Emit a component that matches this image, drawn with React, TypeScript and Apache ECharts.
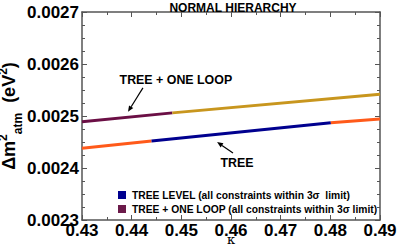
import React, { useEffect, useRef } from "react";
import * as echarts from "echarts";

const treeLoopLow = [[0.43, 0.002489], [0.4482, 0.002506]];
const treeLoopHigh = [[0.4482, 0.002506], [0.49, 0.002542]];
const treeLow = [[0.43, 0.002438], [0.444, 0.002452]];
const treeMid = [[0.444, 0.002452], [0.4801, 0.002487]];
const treeHigh = [[0.4801, 0.002487], [0.49, 0.002494]];
const legendNames = [
  "TREE LEVEL (all constraints within 3σ  limit)",
  "TREE + ONE LOOP (all constraints within 3σ limit)",
];
const annotations = [
  { text: "TREE + ONE LOOP", at: [0.4489, 0.002569], tail: [0.44227, 0.002554], head: [0.43926, 0.002508] },
  { text: "TREE", at: [0.4612, 0.00241], tail: [0.4604, 0.002429], head: [0.4572, 0.00245] },
];

const FONT = "Liberation Sans";

export default function App() {
  const ref = useRef<HTMLDivElement>(null);
  useEffect(() => {
    document.body.style.margin = "0";
    const chart = echarts.init(ref.current!, null, { renderer: "svg" });
    const axisLine = { show: true, lineStyle: { color: "#555", width: 1.5 } };
    const axisTick = { show: true, inside: true, length: 5, lineStyle: { color: "#555" } };
    const option: any = {
      animation: false,
      title: {
        text: "NORMAL HIERARCHY",
        left: 228,
        textAlign: "center",
        top: -3,
        textStyle: { fontFamily: FONT, fontWeight: "bold", fontSize: 12, color: "#000" },
      },
      legend: {
        data: legendNames.map((n) => ({ name: n })),
        orient: "vertical",
        left: 118,
        top: 189,
        padding: 0,
        itemWidth: 8,
        itemHeight: 8,
        itemGap: 2,
        icon: "rect",
        textStyle: { fontFamily: FONT, fontWeight: "bold", fontSize: 10.3, lineHeight: 12, color: "#000", padding: [0, 0, 0, 1] },
      },
      grid: { left: 82, right: 17, top: 12, bottom: 28, containLabel: false, outerBoundsMode: "none" },
      xAxis: [
        {
          type: "value",
          min: 0.43,
          max: 0.49,
          interval: 0.01,
          minorTick: { show: true, splitNumber: 2, length: 3, lineStyle: { color: "#555" } },
          axisLine,
          axisTick,
          splitLine: { show: false },
          axisLabel: {
            margin: 2,
            formatter: (v: number) => v.toFixed(2),
            fontFamily: FONT,
            fontWeight: "bold",
            fontSize: 17,
            color: "#000",
          },
          name: "κ",
          nameLocation: "middle",
          nameGap: 13,
          nameMoveOverlap: false,
          nameTextStyle: { fontFamily: "DejaVu Serif", fontSize: 13, color: "#000" },
        },
        {
          type: "value",
          position: "top",
          min: 0.43,
          max: 0.49,
          interval: 0.01,
          minorTick: { show: true, splitNumber: 2, length: 3, lineStyle: { color: "#555" } },
          axisLine,
          axisTick,
          splitLine: { show: false },
          axisLabel: { show: false },
        },
      ],
      yAxis: [
        {
          type: "value",
          min: 0.0023,
          max: 0.0027,
          interval: 0.0001,
          minorTick: { show: true, splitNumber: 4, length: 3, lineStyle: { color: "#555" } },
          axisLine,
          axisTick,
          splitLine: { show: false },
          axisLabel: {
            margin: 3,
            formatter: (v: number) => v.toFixed(4),
            fontFamily: FONT,
            fontWeight: "bold",
            fontSize: 17,
            color: "#000",
          },
          name: "{a|Δm}{sup|2}{sub|atm}{a|  (eV}{sup|2}{a|)}",
          nameLocation: "middle",
          nameGap: 58,
          nameRotate: 90,
          nameMoveOverlap: false,
          nameTextStyle: {
            fontFamily: FONT,
            fontWeight: "bold",
            color: "#000",
            rich: {
              a: { fontFamily: FONT, fontWeight: "bold", fontSize: 18, lineHeight: 30, verticalAlign: "middle" },
              sup: { fontFamily: FONT, fontWeight: "bold", fontSize: 12, lineHeight: 30, verticalAlign: "top", padding: [3, 0, 0, 0] },
              sub: { fontFamily: FONT, fontWeight: "bold", fontSize: 12, lineHeight: 30, verticalAlign: "bottom" },
            },
          },
        },
        {
          type: "value",
          position: "right",
          min: 0.0023,
          max: 0.0027,
          interval: 0.0001,
          minorTick: { show: true, splitNumber: 4, length: 3, lineStyle: { color: "#555" } },
          axisLine,
          axisTick,
          splitLine: { show: false },
          axisLabel: { show: false },
        },
      ],
      series: [
        { name: "tl1", data: treeLoopLow, color: "#6b0f45" },
        { name: "tl2", data: treeLoopHigh, color: "#c8961e" },
        { name: "t1", data: treeLow, color: "#ff5a1a" },
        { name: legendNames[0], data: treeMid, color: "#00008f" },
        { name: "t3", data: treeHigh, color: "#ff5a1a" },
        { name: legendNames[1], data: [], color: "#6b1a4a" },
      ].map((s) => ({
        type: "line",
        name: s.name,
        data: s.data,
        showSymbol: false,
        symbol: "none",
        itemStyle: { color: s.color },
        lineStyle: { color: s.color, width: 3 },
        xAxisIndex: 0,
        yAxisIndex: 0,
      })),
    };
    chart.setOption(option);

    const graphics: any[] = [];
    annotations.forEach((a) => {
      const p = chart.convertToPixel({ xAxisIndex: 0, yAxisIndex: 0 }, a.at) as number[];
      const t = chart.convertToPixel({ xAxisIndex: 0, yAxisIndex: 0 }, a.tail) as number[];
      const h = chart.convertToPixel({ xAxisIndex: 0, yAxisIndex: 0 }, a.head) as number[];
      graphics.push({
        type: "text",
        x: p[0],
        y: p[1],
        style: {
          text: a.text,
          fontFamily: FONT,
          fontWeight: "bold",
          fontSize: 12.4,
          fill: "#000",
          align: "center",
          verticalAlign: "middle",
        },
      });
      const dx = h[0] - t[0];
      const dy = h[1] - t[1];
      const len = Math.sqrt(dx * dx + dy * dy);
      const ux = dx / len;
      const uy = dy / len;
      const hl = 6;
      const hw = 2.5;
      const bx = h[0] - ux * hl;
      const by = h[1] - uy * hl;
      graphics.push({
        type: "line",
        shape: { x1: t[0], y1: t[1], x2: bx, y2: by },
        style: { stroke: "#000", lineWidth: 1.2 },
      });
      graphics.push({
        type: "polygon",
        shape: {
          points: [
            [h[0], h[1]],
            [bx - uy * hw, by + ux * hw],
            [bx + uy * hw, by - ux * hw],
          ],
        },
        style: { fill: "#000" },
      });
    });
    chart.setOption({ graphic: graphics });
    return () => chart.dispose();
  }, []);
  return <div ref={ref} style={{ width: 397, height: 248 }} />;
}
